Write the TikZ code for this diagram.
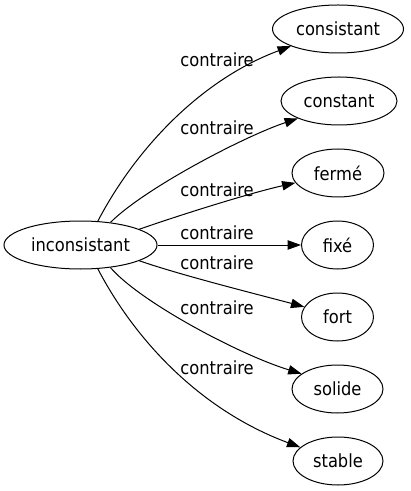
\documentclass[tikz,border=0pt]{standalone}
\usepackage{fontspec}
\setmainfont{DejaVu Sans Condensed}
\usetikzlibrary{shapes.geometric,arrows.meta}
\begin{document}
\begin{tikzpicture}[x=0.75pt,y=-0.75pt,
  word/.style={ellipse,draw,line width=0.75pt,inner sep=0pt,minimum height=36pt,font=\fontsize{13.6pt}{16pt}\selectfont},
  lbl/.style={inner sep=0pt,font=\fontsize{13.6pt}{16pt}\selectfont},
  rel/.style={line width=0.75pt,-{Triangle[length=10pt,width=7pt]}}]
\useasboundingbox (0,0) rectangle (410,491);
\node[word,minimum width=114.75pt] (inc) at (80.5,245) {inconsistant};
\node[word,minimum width=98.25pt] (cons) at (338,29) {consistant};
\node[word,minimum width=87pt] (const) at (339,101) {constant};
\node[word,minimum width=69pt] (fer) at (338,173) {fermé};
\node[word,minimum width=54pt] (fix) at (337.5,245) {fixé};
\node[word,minimum width=54pt] (fort) at (337.5,317) {fort};
\node[word,minimum width=68.25pt] (sol) at (337.5,389) {solide};
\node[word,minimum width=67.5pt] (sta) at (338,461) {stable};
\node[lbl] (l1) at (217,60) {contraire};
\node[lbl] (l2) at (217,128) {contraire};
\node[lbl] (l3) at (217,190) {contraire};
\node[lbl] (l4) at (217,233) {contraire};
\node[lbl] (l5) at (217,263) {contraire};
\node[lbl] (l6) at (217,308) {contraire};
\node[lbl] (l7) at (217,368) {contraire};
\draw[rel] (inc.54) .. controls (135,150) and (200,80) .. (cons.200);
\draw[rel] (inc.37) .. controls (145,188) and (245,136) .. (const.203);
\draw[rel] (inc.15) .. controls (180,215) and (250,193) .. (fer.193);
\draw[rel] (inc) -- (fix);
\draw[rel] (inc.-15) .. controls (180,275) and (260,295) .. (fort.163);
\draw[rel] (inc.-37) .. controls (140,302) and (240,355) .. (sol.157);
\draw[rel] (inc.-54) .. controls (135,340) and (200,410) .. (sta.160);
\end{tikzpicture}
\end{document}
